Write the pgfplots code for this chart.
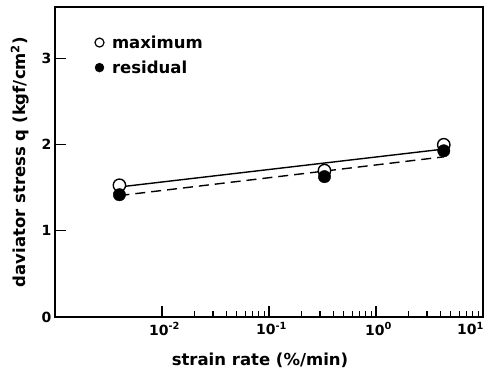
\documentclass[border=0pt]{standalone}
\usepackage{fontspec}
\setmainfont{DejaVu Sans}
\usepackage{pgfplots}
\pgfplotsset{compat=1.18}
\begin{document}
\begin{tikzpicture}
\useasboundingbox (-55pt,-57pt) rectangle (431pt,317pt);
\begin{axis}[
  at={(0,0)}, anchor=south west,
  scale only axis, width=428pt, height=310pt,
  xmode=log, xmin=1e-3, xmax=10,
  ymin=0, ymax=3.6,
  axis line style={line width=1.7pt},
  every tick/.style={line width=1.2pt, black},
  tick align=inside,
  xtick pos=bottom, ytick pos=left,
  major tick length=11pt, minor tick length=6pt,
  xtick={0.01,0.1,1,10},
  xticklabels={\hspace*{5pt}10\textsuperscript{-2},\hspace*{5pt}10\textsuperscript{-1},\hspace*{5pt}10\textsuperscript{0},\hspace*{2pt}\makebox[0pt][r]{10\textsuperscript{1}}},
  ytick={0,1,2,3},
  /pgf/number format/assume math mode=true,
  tick label style={font=\fontsize{14}{16}\selectfont\bfseries},
  xticklabel style={yshift=-2pt},
  label style={font=\fontsize{16.5}{18}\selectfont\bfseries},
  xlabel={strain rate (\%/min)},
  ylabel={daviator stress q (kgf/cm\textsuperscript{2})},
  xlabel style={at={(axis description cs:0.5,0)}, anchor=center, yshift=-43pt, xshift=-9pt},
  ylabel style={at={(axis description cs:-0.082,0.5)}, anchor=center},
  legend style={at={(0.093,0.915)}, anchor=north west, draw=none, fill=none,
    font=\fontsize{16.5}{18}\selectfont\bfseries, row sep=7pt, inner sep=0pt,
    /tikz/every odd column/.append style={column sep=6pt}},
  legend cell align=left,
]
\addplot[black, line width=1.4pt, forget plot] coordinates {(0.004,1.51) (4.3,1.95)};
\addplot[black, line width=1.4pt, dash pattern=on 10pt off 6pt, forget plot] coordinates {(0.004,1.41) (4.3,1.86)};
\addplot[only marks, mark=*, mark size=6.2pt, mark options={fill=white, draw=black, line width=1.4pt},
  legend image code/.code={\draw[mark=*, mark size=4.5pt, mark options={fill=white, draw=black, line width=1.2pt}] plot coordinates {(0.2cm,0cm)};}]
  coordinates {(0.004,1.53) (0.33,1.70) (4.3,2.00)};
\addlegendentry{maximum}
\addplot[only marks, mark=*, mark size=6.2pt, mark options={fill=black, draw=black},
  legend image code/.code={\draw[mark=*, mark size=4.5pt, mark options={fill=black, draw=black}] plot coordinates {(0.2cm,0cm)};}]
  coordinates {(0.004,1.42) (0.33,1.63) (4.3,1.93)};
\addlegendentry{residual}
\end{axis}
\end{tikzpicture}
\end{document}
